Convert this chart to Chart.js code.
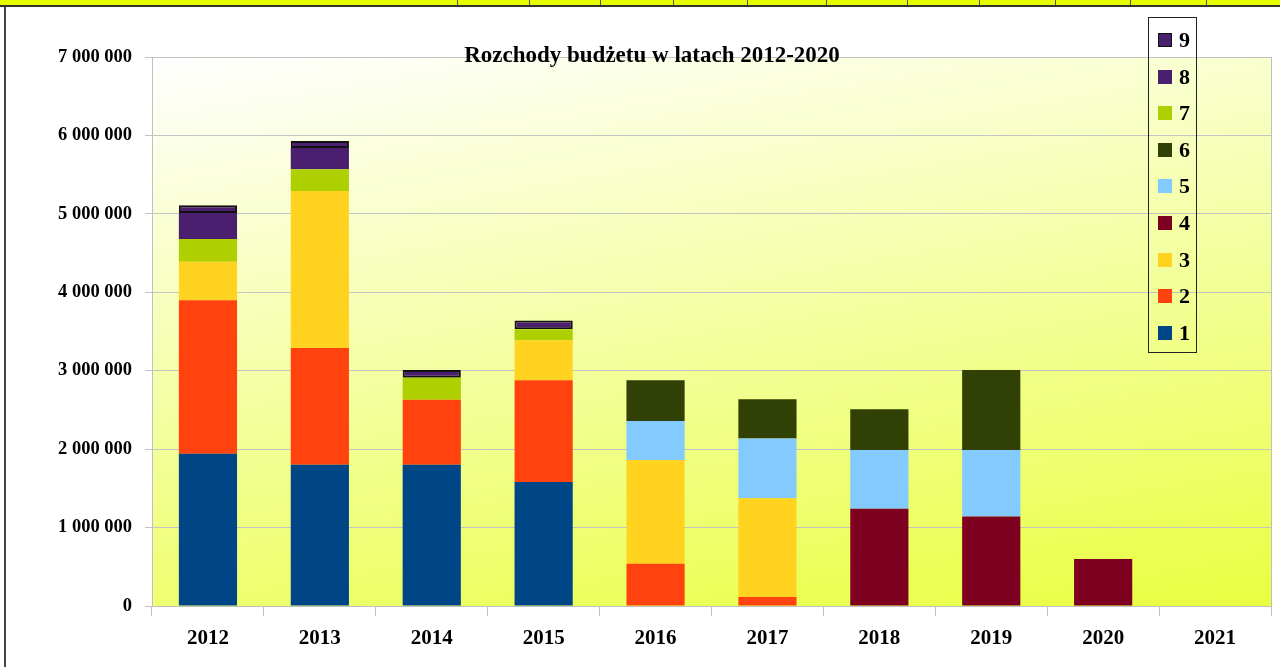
<!DOCTYPE html>
<html>
<head>
<meta charset="utf-8">
<script src="https://cdn.jsdelivr.net/npm/chart.js@4.4.0/dist/chart.umd.min.js"></script>
<style>
  body { margin: 0; background: #fff; width: 1280px; height: 667px; overflow: hidden; position: relative; font-family: "Liberation Serif", serif; }
  #strip { position: absolute; left: 0; top: 0; width: 1280px; height: 5px; background: #e5ff00; border-bottom: 2px solid #333; }
  .cell { position: absolute; top: 0; width: 1px; height: 5px; background: #555; }
  #leftBorder { position: absolute; left: 4px; top: 7px; width: 2px; height: 660px; background: #444; }
  #chartBox { position: absolute; left: 0; top: 0; width: 1280px; height: 667px; }
  #legend { position: absolute; left: 1148px; top: 17px; width: 47px; height: 334px; border: 1.5px solid #222; }
  .item { position: absolute; left: 9px; height: 24px; display: flex; align-items: center; }
  .sw { width: 14px; height: 14px; box-sizing: border-box; }
  .lbl { margin-left: 7px; font: bold 22px "Liberation Serif", serif; color: #000; }
</style>
</head>
<body>
<div id="chartBox"><canvas id="budget" width="1280" height="667"></canvas></div>
<div id="strip"></div>
<div id="leftBorder"></div>
<div id="legend"></div>
<script>
// === Data ===
const years = ["2012", "2013", "2014", "2015", "2016", "2017", "2018", "2019", "2020", "2021"];
const s1 = [1940000, 1800000, 1800000, 1580000, null, null, null, null, null, null];
const s2 = [1960000, 1490000, 830000, 1300000, 540000, 115000, null, null, null, null];
const s3 = [490000, 2000000, null, 510000, 1320000, 1260000, null, null, null, null];
const s4 = [null, null, null, null, null, null, 1240000, 1140000, 600000, null];
const s5 = [null, null, null, null, 500000, 760000, 750000, 850000, null, null];
const s6 = [null, null, null, null, 520000, 500000, 520000, 1020000, null, null];
const s7 = [290000, 280000, 280000, 140000, null, null, null, null, null, null];
const s8 = [330000, 270000, null, null, null, null, null, null, null, null];
const s9 = [100000, 90000, 100000, 110000, null, null, null, null, null, null];

const seriesNames = ["1", "2", "3", "4", "5", "6", "7", "8", "9"];
const seriesColors = ["#004586", "#ff420e", "#ffd320", "#7e0021", "#83caff", "#314004", "#aecf00", "#4b1f6f", "#4b1f6f"];
const seriesData = [s1, s2, s3, s4, s5, s6, s7, s8, s9];

const titleText = "Rozchody budżetu w latach 2012-2020";
const cellLines = [457, 529, 600, 673, 747, 826, 907, 979, 1055, 1130, 1206];

// === Spreadsheet strip at the top ===
const strip = document.getElementById("strip");
cellLines.forEach((x) => {
  const d = document.createElement("div");
  d.className = "cell";
  d.style.left = x + "px";
  strip.appendChild(d);
});

// === Legend (reversed, 9 on top) ===
const legend = document.getElementById("legend");
for (let i = seriesNames.length - 1; i >= 0; i--) {
  const row = document.createElement("div");
  row.className = "item";
  row.style.top = (10 + (8 - i) * 36.6) + "px";
  const sw = document.createElement("div");
  sw.className = "sw";
  sw.style.background = seriesColors[i];
  if (i === 8) sw.style.border = "1.5px solid #111";
  const lb = document.createElement("span");
  lb.className = "lbl";
  lb.textContent = seriesNames[i];
  row.appendChild(sw);
  row.appendChild(lb);
  legend.appendChild(row);
}

// === Plot background + title ===
const plotDecor = {
  id: "plotDecor",
  beforeDraw(chart) {
    const { ctx, chartArea: a } = chart;
    const g = ctx.createLinearGradient(a.left, a.top, a.left + 117, a.top + 714);
    g.addColorStop(0, "#ffffff");
    g.addColorStop(1, "#e8ff40");
    ctx.save();
    ctx.fillStyle = g;
    ctx.fillRect(a.left, a.top, a.right - a.left, a.bottom - a.top);
    ctx.strokeStyle = "#c0c0c0";
    ctx.lineWidth = 1;
    ctx.beginPath();
    ctx.moveTo(a.right + 0.5, a.top);
    ctx.lineTo(a.right + 0.5, a.bottom);
    ctx.stroke();
    ctx.restore();
  },
  afterDraw(chart) {
    const ctx = chart.ctx;
    ctx.save();
    ctx.font = "bold 23px 'Liberation Serif', serif";
    ctx.fillStyle = "#000";
    ctx.textAlign = "center";
    ctx.textBaseline = "middle";
    ctx.fillText(titleText, 652, 56);
    ctx.restore();
  },
};

const fmt = (v) => String(v).replace(/\B(?=(\d{3})+(?!\d))/g, " ");

new Chart(document.getElementById("budget"), {
  type: "bar",
  data: {
    labels: years,
    datasets: seriesData.map((d, i) => ({
      label: seriesNames[i],
      data: d,
      backgroundColor: seriesColors[i],
      borderColor: i === 8 ? "#111" : seriesColors[i],
      borderWidth: i === 8 ? 2 : 0,
      borderSkipped: false,
      barPercentage: 0.52,
      categoryPercentage: 1.0,
    })),
  },
  options: {
    responsive: false,
    animation: false,
    layout: { padding: { top: 57, right: 9, bottom: 0, left: 0 } },
    plugins: { legend: { display: false }, title: { display: false }, tooltip: { enabled: false } },
    scales: {
      x: {
        stacked: true,
        afterFit: (s) => { s.height = 61; },
        grid: { drawOnChartArea: false, offset: true, tickLength: 10, color: "#c0c0c0" },
        border: { color: "#c0c0c0" },
        ticks: { color: "#000", padding: 10, font: { family: "Liberation Serif", size: 21, weight: "bold" } },
      },
      y: {
        stacked: true,
        min: 0,
        max: 7000000,
        afterFit: (s) => { s.width = 152; },
        grid: { color: "#c4c4c4", tickLength: 7 },
        border: { color: "#c0c0c0" },
        ticks: {
          stepSize: 1000000,
          color: "#000",
          padding: 13,
          font: { family: "Liberation Serif", size: 18.5, weight: "bold" },
          callback: (v) => fmt(v),
        },
      },
    },
  },
  plugins: [plotDecor],
});
</script>
</body>
</html>
